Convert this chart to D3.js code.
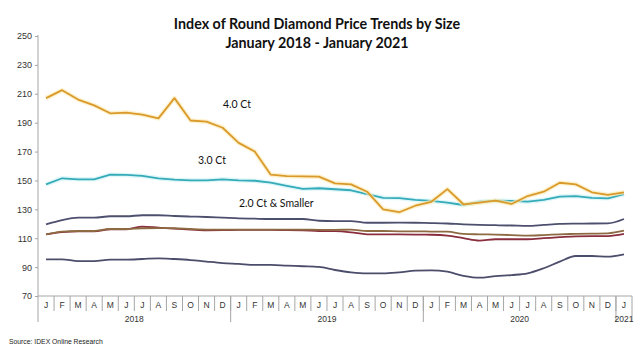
<!DOCTYPE html>
<html><head><meta charset="utf-8">
<script src="https://cdn.jsdelivr.net/npm/d3@7"></script>
<style>
html,body{margin:0;padding:0;background:#fff;}
svg{display:block;}
</style></head>
<body>
<svg id="chart" width="639" height="349"></svg>
<script>
const monthLabels = ["J","F","M","A","M","J","J","A","S","O","N","D",
  "J","F","M","A","M","J","J","A","S","O","N","D",
  "J","F","M","A","M","J","J","A","S","O","N","D","J"];
const yearLabels = ["2018","2019","2020","2021"];
const yearSpans = [12, 12, 12, 1];
const yTicks = [70,90,110,130,150,170,190,210,230,250];

const ct40 = [207,212.5,206,202,196.5,197,195.5,193,207,191.5,190.7,186.5,
  176,170,154,153,152.8,152.6,148,147.3,142.2,130,128,132.5,
  135.2,144,133.5,134.6,136,133.7,139.2,142.2,148.4,147.3,141.8,140,141.8];
const ct30 = [147.3,151.5,150.8,150.8,154,153.8,153.1,151.5,150.5,150.1,150.1,150.8,
  150.1,149.8,148.5,146.2,144.1,144.6,143.9,143.2,140.6,138,137.8,136.5,
  135.8,134.6,133,135.3,136,135.8,135.3,136.5,138.8,139.2,138,137.6,140.6];
const ct20 = [119.6,122.6,124.2,124.2,125.2,125.2,125.9,125.9,125.4,125,124.7,124.2,
  123.8,123.5,123.3,123.3,123.3,122.1,121.9,121.9,120.7,120.7,120.8,120.7,
  120.5,120.2,119.6,119.2,119,118.8,118.5,119.2,119.9,120.1,120.2,120.3,123.3];
const ctBrown = [112.7,114.5,115,115,116.4,116.4,116.9,117,116.9,116.4,116,115.9,
  116,116,116,116,116,115.8,115.8,115.9,115,115,114.8,114.8,
  114.6,114.5,113,112.7,112.5,112.2,111.8,112.2,112.7,113,113.2,113.4,115.2];
const ctRed = [112.7,114.2,114.8,114.8,116.2,116.2,118,117.3,116.6,116,115.5,115.6,
  115.8,115.8,115.8,115.6,115.4,115,114.9,114.1,112.7,112.6,112.6,112.5,
  112.4,111.8,110,108.3,109.3,109.3,109.3,110,110.7,111.3,111.4,111.5,113];
const ctLow = [95.4,95.4,94.2,94.2,95.2,95.2,95.6,96.1,95.6,94.9,93.8,92.8,
  92.2,91.5,91.5,91,90.6,90.1,88,86.4,85.7,85.7,86.4,87.5,
  87.8,86.8,84,82.7,83.8,84.5,85.7,89.2,93.8,97.7,97.7,97.2,98.8];

const svg = d3.select("#chart");
const mLeft = 38, mRight = 632, mTop = 36, mBottom = 296;
const x = d3.scaleBand().domain(d3.range(monthLabels.length)).range([mLeft, mRight]).padding(0);
const xc = i => x(i) + x.bandwidth() / 2;
const y = d3.scaleLinear().domain([70, 250]).range([mBottom, mTop]);

const axisColor = "#a6a6a6";
const font = "'Liberation Sans', Arial, sans-serif";

// title
svg.append("text").attr("x", 317).attr("y", 29).attr("text-anchor", "middle")
  .attr("font-family", "Lato, 'Open Sans', sans-serif").attr("font-weight", "bold")
  .attr("font-size", 14.3).attr("fill", "#111").text("Index of Round Diamond Price Trends by Size");
svg.append("text").attr("x", 317).attr("y", 47.5).attr("text-anchor", "middle")
  .attr("font-family", "Lato, 'Open Sans', sans-serif").attr("font-weight", "bold")
  .attr("font-size", 14.3).attr("fill", "#111").text("January 2018 - January 2021");

// y axis
const yAxis = svg.append("g").attr("transform", `translate(${mLeft},0)`)
  .call(d3.axisLeft(y).tickValues(yTicks).tickSize(3).tickSizeOuter(0).tickPadding(3));
yAxis.select(".domain").remove();
yAxis.selectAll(".tick line").attr("stroke", axisColor);
yAxis.selectAll(".tick text").attr("font-family", font).attr("font-size", 9).attr("fill", "#333");
svg.append("line").attr("x1", mLeft).attr("x2", mLeft).attr("y1", mTop - 1).attr("y2", 322)
  .attr("stroke", axisColor).attr("stroke-width", 1);

// x axis
svg.append("line").attr("x1", mLeft).attr("x2", mRight).attr("y1", mBottom).attr("y2", mBottom)
  .attr("stroke", axisColor).attr("stroke-width", 1);
const xg = svg.append("g");
monthLabels.forEach((m, i) => {
  if (i > 0) {
    xg.append("line").attr("x1", x(i)).attr("x2", x(i)).attr("y1", mBottom).attr("y2", 311)
      .attr("stroke", axisColor);
  }
  xg.append("text").attr("x", xc(i)).attr("y", 307.5).attr("text-anchor", "middle")
    .attr("font-family", font).attr("font-size", 8.5).attr("fill", "#333").text(m);
});
let start = 0;
yearLabels.forEach((yr, k) => {
  const end = start + yearSpans[k];
  const x0 = x(start), x1 = (end >= monthLabels.length) ? mRight : x(end);
  xg.append("line").attr("x1", x1).attr("x2", x1).attr("y1", mBottom).attr("y2", 322)
    .attr("stroke", axisColor);
  xg.append("text").attr("x", (x0 + x1) / 2).attr("y", 321.5).attr("text-anchor", "middle")
    .attr("font-family", font).attr("font-size", 8.5).attr("fill", "#333").text(yr);
  start = end;
});

// lines
const series = [
  {data: ctLow, color: "#4b4d6b", glow: null, curve: d3.curveMonotoneX},
  {data: ctRed, color: "#8a2e3e", glow: null, curve: d3.curveMonotoneX},
  {data: ctBrown, color: "#8e6a42", glow: null, curve: d3.curveMonotoneX},
  {data: ct20, color: "#4d4f6e", glow: null, curve: d3.curveMonotoneX},
  {data: ct30, color: "#35aab8", glow: "#d2f3f6", curve: d3.curveLinear},
  {data: ct40, color: "#d99a2b", glow: "#fcebb8", curve: d3.curveLinear}
];
series.forEach(s => {
  const line = d3.line().x((d, i) => xc(i)).y(d => y(d)).curve(s.curve);
  if (s.glow) {
    svg.append("path").datum(s.data).attr("d", line).attr("fill", "none")
      .attr("stroke", s.glow).attr("stroke-width", 4.5).attr("stroke-linejoin", "round").attr("opacity", 0.7);
  }
  svg.append("path").datum(s.data).attr("d", line).attr("fill", "none")
    .attr("stroke", s.color).attr("stroke-width", 1.8).attr("stroke-linejoin", "round");
});

// series labels
const lab = (t, lx, ly) => svg.append("text").attr("x", lx).attr("y", ly)
  .attr("font-family", "Lato, 'Open Sans', sans-serif").attr("font-size", 10.5).attr("fill", "#111").text(t);
lab("4.0 Ct", 223, 108);
lab("3.0 Ct", 198, 164);
lab("2.0 Ct & Smaller", 239, 207);

// source
svg.append("text").attr("x", 9).attr("y", 344).attr("font-family", font)
  .attr("font-size", 6.8).attr("fill", "#222").text("Source:  IDEX Online  Research");
</script>
</body></html>
